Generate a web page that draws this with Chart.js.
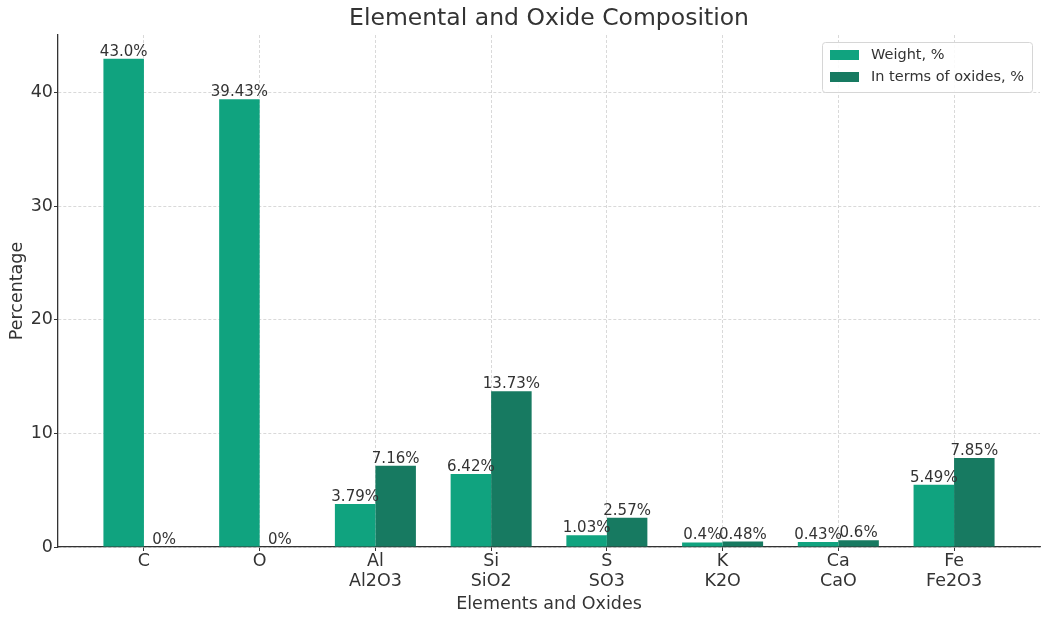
<!DOCTYPE html>
<html>
<head>
<meta charset="utf-8">
<script src="https://cdn.jsdelivr.net/npm/chart.js@4.4.1/dist/chart.umd.min.js"></script>
<style>
  html, body { margin: 0; padding: 0; background: #fff; }
  #wrap { width: 1043px; height: 617px; }
</style>
</head>
<body>
<div id="wrap"><canvas id="myChart" width="1043" height="617"></canvas></div>
<script>
//DATOS
const categorias = [["C"], ["O"], ["Al", "Al2O3"], ["Si", "SiO2"], ["S", "SO3"], ["K", "K2O"], ["Ca", "CaO"], ["Fe", "Fe2O3"]];
const pesoValores = [43.0, 39.43, 3.79, 6.42, 1.03, 0.4, 0.43, 5.49];
const oxidosValores = [0, 0, 7.16, 13.73, 2.57, 0.48, 0.6, 7.85];
const yTicks = [0, 10, 20, 30, 40];

const FUENTE = "'DejaVu Sans', sans-serif";
const colorPeso = "#10a37f";
const colorOxido = "#177a61";

// etiquetas estilo python: 43.0 -> "43.0", 0 (int) -> "0"
function fmtFloat(v) {
  return Number.isInteger(v) ? v.toFixed(1) : String(v);
}
function fmtInt(v) {
  return String(v);
}

const data = {
  datasets: [
    {
      label: "Weight, %",
      data: pesoValores.map((v, i) => ({ x: i, y: v })),
      backgroundColor: colorPeso,
      fmt: fmtFloat,
      categoryPercentage: 0.7,
      barPercentage: 1.0,
    },
    {
      label: "In terms of oxides, %",
      data: oxidosValores.map((v, i) => ({ x: i, y: v })),
      backgroundColor: colorOxido,
      fmt: fmtInt,
      categoryPercentage: 0.7,
      barPercentage: 1.0,
    },
  ],
};

// textos sobre las barras
const etiquetasBarras = {
  id: "etiquetasBarras",
  afterDatasetsDraw(chart) {
    const ctx = chart.ctx;
    ctx.save();
    ctx.font = "15px " + FUENTE;
    ctx.fillStyle = "#333";
    ctx.textAlign = "center";
    ctx.textBaseline = "alphabetic";
    chart.data.datasets.forEach((ds, d) => {
      chart.getDatasetMeta(d).data.forEach((bar, i) => {
        ctx.fillText(ds.fmt(ds.data[i].y) + "%", bar.x, bar.y - 3);
      });
    });
    ctx.restore();
  },
};

// titulo y leyenda dibujados a mano
const tituloLeyenda = {
  id: "tituloLeyenda",
  afterDraw(chart) {
    const ctx = chart.ctx;
    const area = chart.chartArea;
    ctx.save();
    ctx.font = "23.5px " + FUENTE;
    ctx.fillStyle = "#333";
    ctx.textAlign = "center";
    ctx.textBaseline = "middle";
    ctx.fillText("Elemental and Oxide Composition", (area.left + area.right) / 2, 19);

    // leyenda
    const x0 = 822, y0 = 42, w = 210, h = 50;
    ctx.beginPath();
    ctx.roundRect(x0 + 0.5, y0 + 0.5, w, h, 3);
    ctx.fillStyle = "rgba(255,255,255,0.85)";
    ctx.fill();
    ctx.strokeStyle = "#d6d6d6";
    ctx.lineWidth = 1;
    ctx.stroke();
    ctx.font = "14.5px " + FUENTE;
    ctx.textAlign = "left";
    chart.data.datasets.forEach((ds, d) => {
      const yy = y0 + 13 + d * 22;
      ctx.fillStyle = ds.backgroundColor;
      ctx.fillRect(x0 + 8, yy - 5, 29, 10);
      ctx.fillStyle = "#333";
      ctx.fillText(ds.label, x0 + 49, yy);
    });
    ctx.restore();
  },
};

const config = {
  type: "bar",
  data: data,
  plugins: [etiquetasBarras, tituloLeyenda],
  options: {
    responsive: false,
    animation: false,
    layout: { padding: { top: 35, right: 3, left: 0, bottom: 0 } },
    plugins: {
      legend: { display: false },
      title: { display: false },
      tooltip: { enabled: false },
    },
    scales: {
      x: {
        type: "linear",
        min: -0.7425,
        max: 7.7425,
        offset: false,
        afterBuildTicks: (scale) => {
          scale.ticks = categorias.map((c, i) => ({ value: i }));
        },
        afterFit: (scale) => {
          scale.height = 70;
        },
        ticks: {
          callback: (v) => categorias[v],
          font: { family: FUENTE, size: 17.5, lineHeight: 1.15 },
          color: "#333",
          padding: 0,
          maxRotation: 0,
          autoSkip: false,
        },
        grid: {
          offset: false,
          color: "#cfcfcf",
          lineWidth: 0.8,
          tickLength: 4,
          tickColor: "#333",
          tickWidth: 1,
          tickBorderDash: [],
        },
        border: { display: true, color: "#333", width: 1.3, dash: [3, 2] },
        title: {
          display: true,
          text: "Elements and Oxides",
          font: { family: FUENTE, size: 17.5 },
          color: "#333",
          padding: { top: 0, bottom: 2 },
        },
      },
      y: {
        min: 0,
        max: 45.1,
        afterBuildTicks: (scale) => {
          scale.ticks = yTicks.map((v) => ({ value: v }));
        },
        afterFit: (scale) => {
          scale.width = 58;
        },
        ticks: {
          font: { family: FUENTE, size: 17.5 },
          color: "#333",
          padding: 1,
        },
        grid: {
          color: "#cfcfcf",
          lineWidth: 0.8,
          tickLength: 4,
          tickColor: "#333",
          tickWidth: 1,
          tickBorderDash: [],
        },
        border: { display: true, color: "#333", width: 1.3, dash: [3, 2] },
        title: {
          display: true,
          text: "Percentage",
          font: { family: FUENTE, size: 17.5 },
          color: "#333",
          padding: { top: 7, bottom: 0 },
        },
      },
    },
  },
};

const myChart = new Chart(document.getElementById("myChart"), config);
</script>
</body>
</html>
